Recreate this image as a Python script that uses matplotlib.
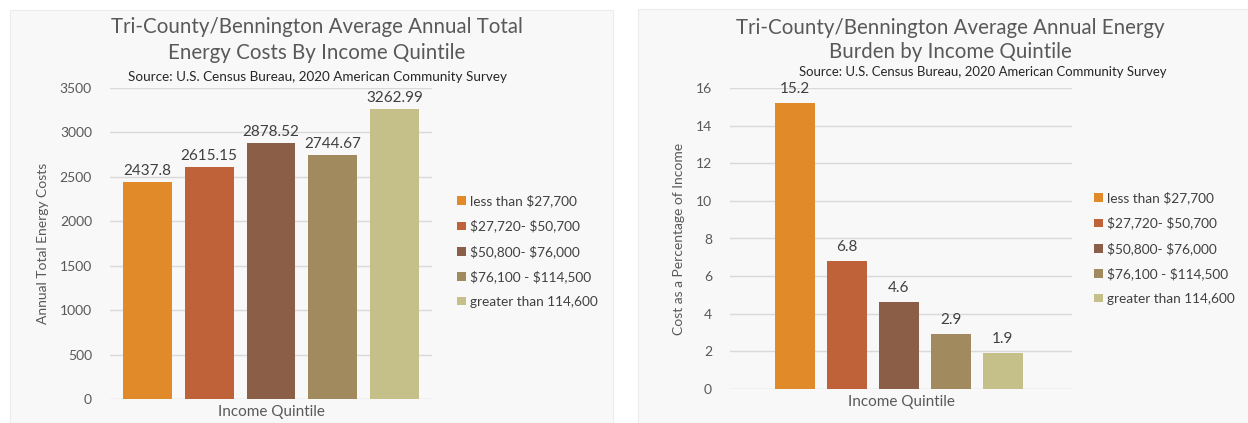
import matplotlib
matplotlib.use("Agg")
import matplotlib.pyplot as plt
from matplotlib.patches import Rectangle

# dados
quintis = ["less than $27,700", "$27,720- $50,700", "$50,800- $76,000",
           "$76,100 - $114,500", "greater than 114,600"]
custo_anual = [2437.8, 2615.15, 2878.52, 2744.67, 3262.99]
custo_rotulos = ["2437.8", "2615.15", "2878.52", "2744.67", "3262.99"]
onus = [15.2, 6.8, 4.6, 2.9, 1.9]
onus_rotulos = ["15.2", "6.8", "4.6", "2.9", "1.9"]
cores = ["#E08A2A", "#BF623A", "#8B5E48", "#A08A5E", "#C5BF89"]

plt.rcParams["font.family"] = ["Lato", "DejaVu Sans"]
plt.rcParams["text.parse_math"] = False  # os $ sao texto normal
txt = "#595959"

fig = plt.figure(figsize=(12.48, 4.23), dpi=100)
fig.patch.set_facecolor("white")

# fundos cinza dos dois paineis
fig.patches.append(Rectangle((10 / 1248, 0), 603 / 1248, 413 / 423, transform=fig.transFigure,
                             facecolor="#f8f8f8", edgecolor="#ececec", lw=0.8, zorder=-5))
fig.patches.append(Rectangle((638 / 1248, 0), 610 / 1248, 414 / 423, transform=fig.transFigure,
                             facecolor="#f8f8f8", edgecolor="#ececec", lw=0.8, zorder=-5))


def painel(ax, valores, rotulos, ymax, ystep, xlim, largura, ylabel, dy):
    ax.set_facecolor("none")
    x = range(len(valores))
    barras = ax.bar(x, valores, width=largura, color=cores, zorder=3, label=quintis)
    for xi, v, r in zip(x, valores, rotulos):
        ax.text(xi, v + dy, r, ha="center", va="bottom", fontsize=11, color="#404040")
    ax.set_ylim(0, ymax)
    ax.set_xlim(*xlim)
    ax.set_yticks([i * ystep for i in range(int(round(ymax / ystep)) + 1)])
    ax.yaxis.grid(True, color="#d9d9d9", lw=1, zorder=0)
    ax.set_xticks([])
    for s in ax.spines.values():
        s.set_visible(False)
    ax.tick_params(axis="y", length=0, labelsize=10, labelcolor=txt, pad=13)
    ax.set_ylabel(ylabel, fontsize=10, color=txt, labelpad=8)
    return barras


ax1 = fig.add_axes([110 / 1248, 24 / 423, 322 / 1248, 311 / 423])
b1 = painel(ax1, custo_anual, custo_rotulos, 3500, 500, (-0.6, 4.6), 0.79,
            "Annual Total Energy Costs", 45)
ax1.set_xlabel("Income Quintile", fontsize=11, color=txt, labelpad=4)

ax2 = fig.add_axes([730 / 1248, 34 / 423, 342 / 1248, 301 / 423])
b2 = painel(ax2, onus, onus_rotulos, 16, 2, (-1.25, 5.33), 0.77,
            "Cost as a Percentage of Income", 0.4)
ax2.set_xlabel("Income Quintile", fontsize=11, color=txt, labelpad=4)

leg_kw = dict(frameon=False, fontsize=9.8, labelcolor="#404040", handlelength=0.6,
              handleheight=0.6, handletextpad=0.3, labelspacing=0.92, borderaxespad=0)
fig.legend(b1, quintis, loc="upper left", bbox_to_anchor=(452 / 1248, 1 - 189 / 423), **leg_kw)
fig.legend(b2, quintis, loc="upper left", bbox_to_anchor=(1089 / 1248, 1 - 186 / 423), **leg_kw)

# titulos
fig.text(317 / 1248, 1 - 40 / 423, "Tri-County/Bennington Average Annual Total\nEnergy Costs By Income Quintile",
         ha="center", va="center", fontsize=14.8, color=txt, linespacing=1.4)
fig.text(318 / 1248, 1 - 77 / 423, "Source: U.S. Census Bureau, 2020 American Community Survey",
         ha="center", va="center", fontsize=9.75, color="#262626")
fig.text(950 / 1248, 1 - 40 / 423, "Tri-County/Bennington Average Annual Energy\nBurden by Income Quintile",
         ha="center", va="center", fontsize=14.8, color=txt, linespacing=1.3)
fig.text(983 / 1248, 1 - 72 / 423, "Source: U.S. Census Bureau, 2020 American Community Survey",
         ha="center", va="center", fontsize=9.45, color="#262626")

fig.savefig("out.png", dpi=100, facecolor=fig.get_facecolor())
